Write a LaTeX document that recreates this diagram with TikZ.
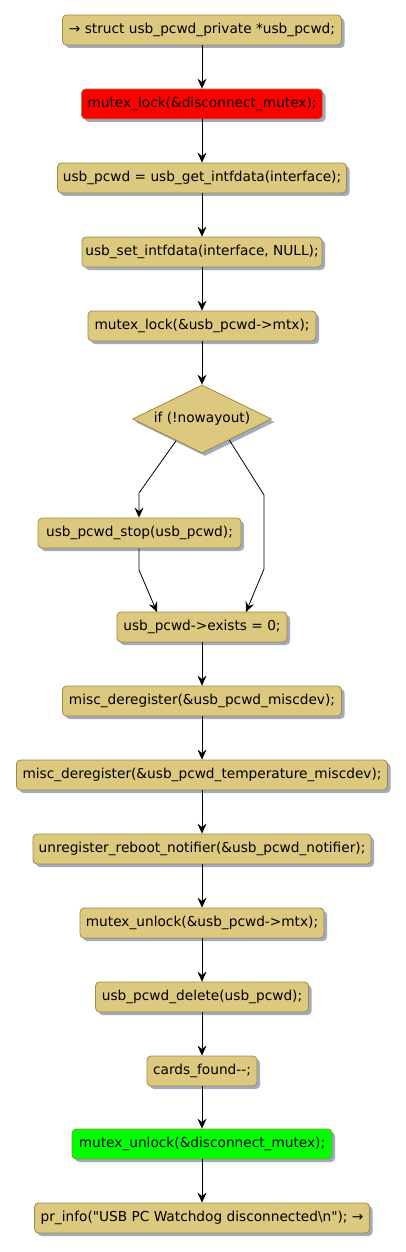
\documentclass[tikz,border=0pt]{standalone}
\usepackage{fontspec}
\setmainfont{DejaVu Sans}[Ligatures=TeXOff]
\usetikzlibrary{arrows.meta,shapes.geometric,calc,shadows}
\definecolor{actfill}{HTML}{DDC880}
\definecolor{actdraw}{HTML}{A08A40}
\definecolor{shadowc}{HTML}{A2AAC2}
\begin{document}
\begin{tikzpicture}[x=1pt,y=-1pt,
  act/.style={draw=actdraw, fill=actfill, line width=0.8pt, rounded corners=4pt,
    minimum height=30pt, inner sep=0pt, font=\fontsize{13.7}{15}\selectfont,
    drop shadow={shadow xshift=3pt, shadow yshift=-3pt, fill=shadowc, opacity=1}},
  dec/.style={draw=actdraw, fill=actfill, line width=0.8pt, shape=diamond, shape aspect=2.04,
    minimum width=139pt, minimum height=68pt, inner sep=0pt, font=\fontsize{13.7}{15}\selectfont,
    drop shadow={shadow xshift=3pt, shadow yshift=-3pt, fill=shadowc, opacity=1}},
  flow/.style={draw=black, line width=0.8pt, -{Stealth[length=10pt,width=9pt,inset=3.5pt]}}]
\useasboundingbox (0,0) rectangle (406,1252);
\node[act, minimum width=279pt] (n1) at (202,30) {→ struct usb\_pcwd\_private *usb\_pcwd;};
\node[act, minimum width=241pt, fill=red] (n2) at (202,104) {mutex\_lock(\&disconnect\_mutex);};
\node[act, minimum width=289pt] (n3) at (202,178) {usb\_pcwd = usb\_get\_intfdata(interface);};
\node[act, minimum width=240pt] (n4) at (202,252) {usb\_set\_intfdata(interface, NULL);};
\node[act, minimum width=228pt] (n5) at (202,326) {mutex\_lock(\&usb\_pcwd->mtx);};
\node[dec] (d) at (202,419) {if (!nowayout)};
\node[act, minimum width=203pt] (n6) at (139.5,533) {usb\_pcwd\_stop(usb\_pcwd);};
\node[act, minimum width=170pt] (n7) at (202,627) {usb\_pcwd->exists = 0;};
\node[act, minimum width=279pt] (n8) at (202,701) {misc\_deregister(\&usb\_pcwd\_miscdev);};
\node[act, minimum width=371pt] (n9) at (202,775) {misc\_deregister(\&usb\_pcwd\_temperature\_miscdev);};
\node[act, minimum width=338pt] (n10) at (202,849) {unregister\_reboot\_notifier(\&usb\_pcwd\_notifier);};
\node[act, minimum width=244pt] (n11) at (202,923) {mutex\_unlock(\&usb\_pcwd->mtx);};
\node[act, minimum width=213pt] (n12) at (202,997) {usb\_pcwd\_delete(usb\_pcwd);};
\node[act, minimum width=110pt] (n13) at (202,1071) {cards\_found-{}-;};
\node[act, minimum width=260pt, fill=green] (n14) at (202,1144) {mutex\_unlock(\&disconnect\_mutex);};
\node[act, minimum width=335pt] (n15) at (202,1218) {pr\_info("USB PC Watchdog disconnected\textbackslash n"); →};
\draw[flow] (n1) -- (n2);
\draw[flow] (n2) -- (n3);
\draw[flow] (n3) -- (n4);
\draw[flow] (n4) -- (n5);
\draw[flow] (n5) -- (d);
\coordinate (dl) at ($(d.south)!0.37!(d.west)$);
\coordinate (dr) at ($(d.south)!0.39!(d.east)$);
\coordinate (l1) at (139,493);
\coordinate (r1) at (264,495);
\coordinate (r2) at (264,569);
\coordinate (s1) at (139,570);
\coordinate (e1) at (157,612);
\coordinate (e2) at (246,612);
\draw[flow] (dl) -- (l1) -- (n6.north -| l1);
\draw[flow] (n6.south -| s1) -- (s1) -- (e1);
\draw[flow] (dr) -- (r1) -- (r2) -- (e2);
\draw[flow] (n7) -- (n8);
\draw[flow] (n8) -- (n9);
\draw[flow] (n9) -- (n10);
\draw[flow] (n10) -- (n11);
\draw[flow] (n11) -- (n12);
\draw[flow] (n12) -- (n13);
\draw[flow] (n13) -- (n14);
\draw[flow] (n14) -- (n15);
\end{tikzpicture}
\end{document}
